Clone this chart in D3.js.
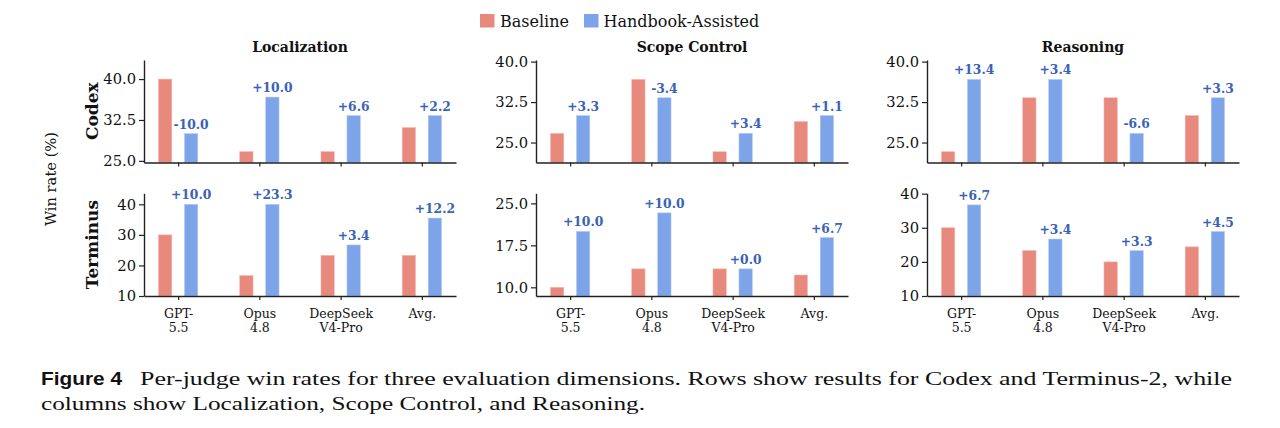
<!DOCTYPE html>
<html><head><meta charset="utf-8">
<script src="https://cdn.jsdelivr.net/npm/d3@7"></script>
<style>body{margin:0;background:#fff}svg{display:block}.cap{font-family:"Liberation Serif","Times New Roman",Times,serif}</style>
</head><body><svg id="c" width="1280" height="428"></svg>
<script>
// ---------- data ----------
const judges = [["GPT-","5.5"],["Opus","4.8"],["DeepSeek","V4-Pro"],["Avg."]];
const dimensions = ["Localization","Scope Control","Reasoning"];
const agents = ["Codex","Terminus"];
const seriesNames = ["Baseline","Handbook-Assisted"];
// [dimension][judge]
const codexBaseline    = [[40.0,26.7,26.7,31.1],[26.7,36.7,23.3,28.9],[23.3,33.3,33.3,30.0]];
const codexAssisted    = [[30.0,36.7,33.3,33.3],[30.0,33.3,26.7,30.0],[36.7,36.7,26.7,33.3]];
const terminusBaseline = [[30.0,16.7,23.3,23.3],[10.0,13.3,13.3,12.2],[30.0,23.3,20.0,24.4]];
const terminusAssisted = [[40.0,40.0,26.7,35.5],[20.0,23.3,13.3,18.9],[36.7,26.7,23.3,28.9]];
const codexYDomains    = [[24.7,43.5],[21.3,40.3],[21.3,40.3]];
const terminusYDomains = [[10,43.6],[8.45,26.8],[10,40.1]];
const codexYTicks      = [[25,32.5,40],[25,32.5,40],[25,32.5,40]];
const terminusYTicks   = [[10,20,30,40],[10,17.5,25],[10,20,30,40]];
const codexTickFormats    = [".1f",".1f",".1f"];
const terminusTickFormats = [".0f",".1f",".0f"];

// ---------- layout / style ----------
const C_RED = "#E8897D", C_BLUE = "#7DA4E9", C_LABEL = "#3A62B5", C_AX = "#222";
const SERIF = "'DejaVu Serif', serif";
const colX = [144, 536, 927], W = 312;
const rowY = [60, 193.3], H = [102.5, 102.7];

const rows = [
  {base: codexBaseline, asst: codexAssisted, dom: codexYDomains, ticks: codexYTicks, fmt: codexTickFormats},
  {base: terminusBaseline, asst: terminusAssisted, dom: terminusYDomains, ticks: terminusYTicks, fmt: terminusTickFormats}
];

const svg = d3.select("#c");
svg.append("rect").attr("width",1280).attr("height",428).attr("fill","#fff");

const x = d3.scaleLinear().domain([-0.42, 3.42]).range([0, W]);
const OFF = 0.16, BW = 0.164;
const bw = x(BW) - x(0);

rows.forEach((row, r) => {
  dimensions.forEach((dim, c) => {
    const h = H[r];
    const g = svg.append("g").attr("transform", `translate(${colX[c]},${rowY[r]})`);
    const y = d3.scaleLinear().domain(row.dom[c]).range([h, 0]);
    const base = row.base[c], asst = row.asst[c];

    g.selectAll(".b").data(base).join("rect")
      .attr("x", (d,i) => x(i - OFF) - bw/2).attr("width", bw)
      .attr("y", d => y(d)).attr("height", d => h - y(d))
      .attr("fill", C_RED).attr("stroke", "#f3b8b0").attr("stroke-width", 0.6);
    g.selectAll(".a").data(asst).join("rect")
      .attr("x", (d,i) => x(i + OFF) - bw/2).attr("width", bw)
      .attr("y", d => y(d)).attr("height", d => h - y(d))
      .attr("fill", C_BLUE).attr("stroke", "#b3cbf3").attr("stroke-width", 0.6);

    g.selectAll(".l").data(asst).join("text")
      .attr("x", (d,i) => x(i + OFF)).attr("y", d => y(d) - 5)
      .attr("text-anchor","middle").attr("font-family", SERIF).attr("font-weight","bold")
      .attr("font-size", 12.3).attr("fill", C_LABEL)
      .text((d,i) => { const v = Math.round((d - base[i]) * 10) / 10; return (v >= 0 ? "+" : "") + v.toFixed(1); });

    const ya = g.append("g").call(d3.axisLeft(y).tickValues(row.ticks[c]).tickFormat(d3.format(row.fmt[c]))
      .tickSize(5).tickSizeOuter(0).tickPadding(3));
    const xa = g.append("g").attr("transform", `translate(0,${h})`)
      .call(d3.axisBottom(x).tickValues([0,1,2,3]).tickFormat("").tickSize(4).tickSizeOuter(0));
    [ya, xa].forEach(a => {
      a.select(".domain").attr("stroke", C_AX).attr("stroke-width", 1.4);
      a.selectAll(".tick line").attr("stroke", C_AX).attr("stroke-width", 1.2);
      a.selectAll("text").attr("font-family", SERIF).attr("font-size", 14.7).attr("fill", "#111");
    });
    if (r === rows.length - 1) {
      xa.selectAll(".tick").each(function(d) {
        const t = d3.select(this).select("text").attr("y", null).attr("dy", null)
          .attr("font-size", 12.5).attr("text-anchor","middle");
        judges[d].forEach((line, k) => t.append("tspan").attr("x", 0).attr("y", 21.5 + k * 14).text(line));
      });
    }
    if (r === 0) {
      g.append("text").attr("x", W/2).attr("y", -8).attr("text-anchor","middle")
        .attr("font-family", SERIF).attr("font-weight","bold").attr("font-size", 14).attr("fill","#111").text(dim);
    }
  });
  svg.append("text").attr("transform", `translate(98,${rowY[r] + H[r]/2}) rotate(-90)`)
    .attr("text-anchor","middle").attr("font-family", SERIF).attr("font-weight","bold")
    .attr("font-size", 17).attr("fill","#111").text(agents[r]);
});

svg.append("text").attr("transform", "translate(56,179) rotate(-90)")
  .attr("text-anchor","middle").attr("font-family", SERIF).attr("font-size", 14.7).attr("fill","#111")
  .text("Win rate (%)");

const legX = [480, 584], legTX = [500, 603.5];
seriesNames.forEach((s, i) => {
  svg.append("rect").attr("x", legX[i]).attr("y", 14).attr("width", 14.5).attr("height", 13.5)
    .attr("fill", i ? C_BLUE : C_RED);
  svg.append("text").attr("x", legTX[i]).attr("y", 26.8).attr("font-family", SERIF).attr("font-size", 16)
    .attr("fill","#111").text(s);
});

const cap = svg.append("g");
cap.append("text").attr("x", 41).attr("y", 385).attr("font-family","'Liberation Sans', Arial, sans-serif")
  .attr("font-weight","bold").attr("font-size", 18).attr("textLength", 81).attr("lengthAdjust","spacingAndGlyphs")
  .attr("fill","#111").text("Figure 4");
cap.append("text").attr("class","cap").attr("x", 140).attr("y", 385)
  .attr("font-size", 19.5).attr("textLength", 1092).attr("lengthAdjust","spacingAndGlyphs").attr("fill","#111")
  .text("Per-judge win rates for three evaluation dimensions. Rows show results for Codex and Terminus-2, while");
cap.append("text").attr("class","cap").attr("x", 41).attr("y", 410)
  .attr("font-size", 19.5).attr("textLength", 604).attr("lengthAdjust","spacingAndGlyphs").attr("fill","#111")
  .text("columns show Localization, Scope Control, and Reasoning.");
</script></body></html>
